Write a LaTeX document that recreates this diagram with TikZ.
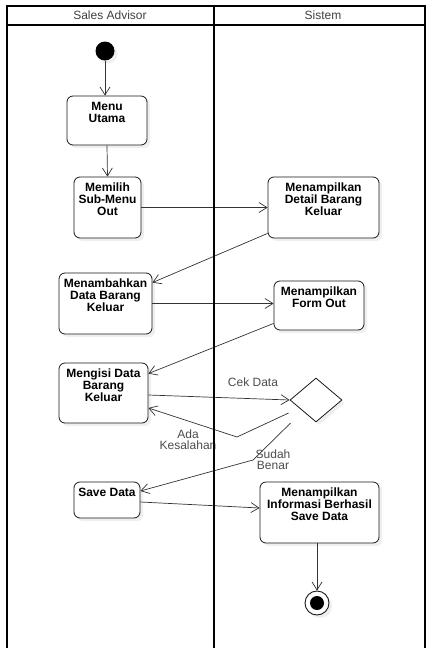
\documentclass[tikz,border=0pt]{standalone}
\usepackage{fontspec}
\setmainfont{Liberation Sans}
\usetikzlibrary{arrows.meta,shadows,calc,shapes.geometric}
\newcommand{\boxtext}[3]{\parbox[c][#1][t]{#2}{\centering\fontsize{12}{11.8}\selectfont\bfseries #3}}
\tikzset{
  act/.style={draw=black!90, line width=0.8pt, rounded corners=6pt, fill=white,
    inner xsep=0pt, inner ysep=6pt,
    drop shadow={shadow xshift=3pt, shadow yshift=-3pt, fill=black!10, opacity=0.6}},
  flow/.style={draw=black!80, line width=0.7pt, -{Straight Barb[length=8pt,width=10pt]}},
  lbl/.style={font=\fontsize{12}{11}\selectfont, text=black!70, align=center, inner sep=0pt},
  head/.style={font=\fontsize{12}{12}\selectfont, text=black!75, inner sep=0pt},
  lane/.style={draw=black, line width=1.6pt},
  divider/.style={draw=black, line width=2.6pt},
}
\begin{document}
\begin{tikzpicture}[x=1pt,y=-1pt]
\useasboundingbox (0,0) rectangle (426,648);
\fill[white] (0,0) rectangle (426,648);

% start
\node[circle, fill=black, minimum size=19pt, inner sep=0pt,
  drop shadow={shadow xshift=3pt, shadow yshift=-3pt, fill=black!10, opacity=0.6}] (start) at (105,51) {};

% activities
\node[act, minimum width=80pt] (menu) at (107,120.5) {\boxtext{37pt}{80pt}{Menu\\Utama}};
\node[act, minimum width=67pt] (memilih) at (107.5,207.5) {\boxtext{49pt}{67pt}{Memilih\\Sub-Menu\\Out}};
\node[act, minimum width=111pt] (detail) at (323.5,207.5) {\boxtext{49pt}{111pt}{Menampilkan\\Detail Barang\\Keluar}};
\node[act, minimum width=93pt] (menambah) at (105.5,303.5) {\boxtext{49pt}{93pt}{Menambahkan\\Data Barang\\Keluar}};
\node[act, minimum width=90pt] (form) at (319,305.5) {\boxtext{37pt}{90pt}{Menampilkan\\Form Out}};
\node[act, minimum width=89pt] (mengisi) at (103.5,393) {\boxtext{48pt}{89pt}{Mengisi Data\\Barang\\Keluar}};
\node[act, minimum width=66pt] (save) at (107,500) {\boxtext{24pt}{66pt}{Save Data}};
\node[act, minimum width=119pt] (info) at (319.5,512.5) {\boxtext{49pt}{119pt}{Menampilkan\\Informasi Berhasil\\Save Data}};

% decision
\node[diamond, draw=black!90, line width=0.8pt, fill=white, aspect=1.18, minimum width=52pt, minimum height=44pt, inner sep=0pt,
  drop shadow={shadow xshift=3pt, shadow yshift=-3pt, fill=black!10, opacity=0.6}] (dia) at (316,400) {};

% end
\node[circle, draw=black!90, line width=0.9pt, fill=white, minimum size=24pt, inner sep=0pt,
  drop shadow={shadow xshift=3pt, shadow yshift=-3pt, fill=black!10, opacity=0.6}] (end) at (317,603) {};
\node[circle, fill=black, minimum size=14pt, inner sep=0pt] (endin) at (end.center) {};

% connectors
\draw[flow] (start) -- (start |- menu.north);
\draw[flow] (menu.south) -- (memilih.north);
\draw[flow] (memilih.east) -- (detail.west);
\draw[flow] ([yshift=5pt]detail.south west) -- ([yshift=-10pt]menambah.north east);
\draw[flow] (menambah.east) -- (menambah.east -| form.west);
\draw[flow] ([yshift=7pt]form.south west) -- ([yshift=-11pt]mengisi.north east);
\draw[flow] ([yshift=-2pt]mengisi.east) -- (dia.west);
\coordinate (bendA) at (237,437);
\coordinate (bendB) at (253,460);
\draw[flow] ([xshift=-1pt,yshift=-13pt]dia.west) -- (bendA) -- ([yshift=-15pt]mengisi.east);
\draw[flow] ([xshift=1pt,yshift=-23pt]dia.west) -- (bendB) -- ([yshift=9pt]save.east);
\draw[flow] ([yshift=-2pt]save.east) -- ([yshift=4.5pt]info.west);
\draw[flow] (info.south -| end.north) -- (end.north);

% labels
\node[lbl] (cek) at (253,382) {Cek Data};
\node[lbl] (ada) at (188,439.5) {Ada\\Kesalahan};
\node[lbl] (sudah) at (273,460) {Sudah\\Benar};

% swimlanes
\draw[lane] (7,660) -- (7,6) -- (425,6) -- (425,660);
\draw[lane] (7,25) -- (425,25);
\draw[divider] (214,6) -- (214,660);
\node[head] (h1) at (110,15.5) {Sales Advisor};
\node[head] (h2) at (323,15.5) {Sistem};
\end{tikzpicture}
\end{document}
